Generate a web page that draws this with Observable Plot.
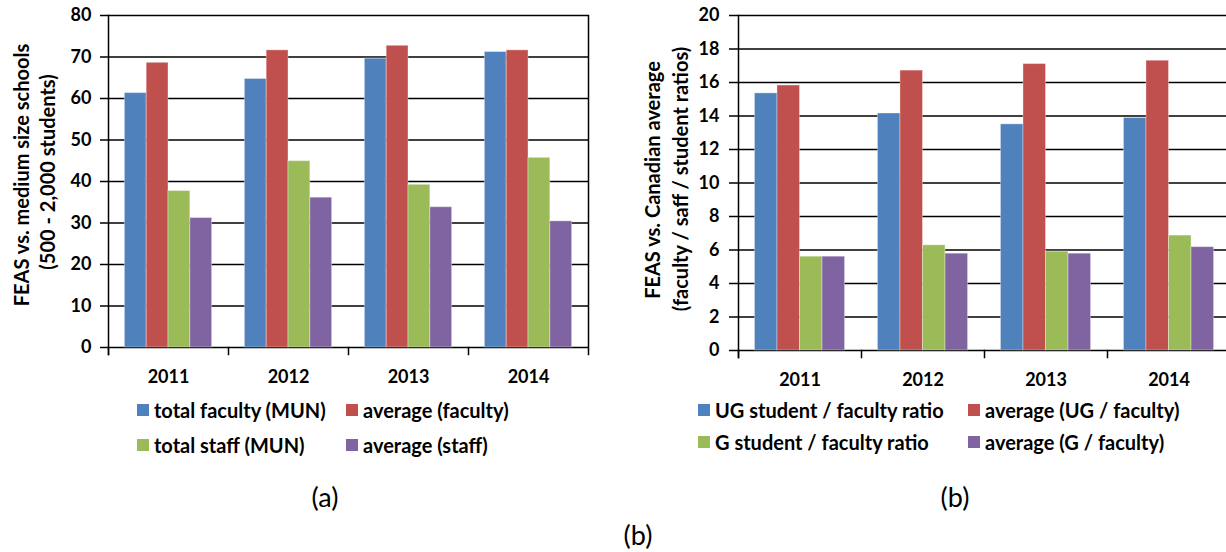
<!DOCTYPE html>
<html>
<head>
<meta charset="utf-8">
<script src="https://cdn.jsdelivr.net/npm/d3@7"></script>
<script src="https://cdn.jsdelivr.net/npm/@observablehq/plot@0.6"></script>
<style>
  html, body { margin: 0; padding: 0; background: #fff; overflow: hidden; }
  #root { position: relative; width: 1226px; height: 552px; overflow: hidden; font-family: Lato, "Open Sans", sans-serif; color: #000; }
  .ytitle { position: absolute; transform: translate(-50%, -50%) rotate(-90deg); white-space: nowrap; font-weight: bold; font-size: 20px; line-height: 1; }
  .legend { position: absolute; display: flex; align-items: center; white-space: nowrap; font-weight: bold; font-size: 20px; line-height: 1; transform: translateY(-50%); }
  .sw { display: inline-block; width: 12px; height: 12px; margin-right: 5px; }
  .cap { position: absolute; transform: translate(-50%, -50%); font-size: 27px; white-space: nowrap; line-height: 1; }
</style>
</head>
<body>
<div id="root"></div>
<script>
// ---------- data ----------
const years = ["2011", "2012", "2013", "2014"];
const colors = ["#4F81BD", "#C0504D", "#9BBB59", "#8064A2"];

// chart (a)
const seriesA = ["total faculty (MUN)", "average (faculty)", "total staff (MUN)", "average (staff)"];
const totalFacultyMUN = [61.3, 64.7, 69.6, 71.2];
const averageFaculty = [68.6, 71.6, 72.7, 71.6];
const totalStaffMUN = [37.7, 44.9, 39.2, 45.7];
const averageStaff = [31.2, 36.1, 33.8, 30.4];
const ticksA = [0, 10, 20, 30, 40, 50, 60, 70, 80];

// chart (b)
const seriesB = ["UG student / faculty ratio", "average (UG / faculty)", "G student / faculty ratio", "average (G / faculty)"];
const ugRatio = [15.35, 14.15, 13.5, 13.88];
const averageUG = [15.82, 16.71, 17.1, 17.3];
const gRatio = [5.6, 6.28, 5.9, 6.86];
const averageG = [5.6, 5.78, 5.78, 6.17];
const ticksB = [0, 2, 4, 6, 8, 10, 12, 14, 16, 18, 20];

// ---------- helpers ----------
function toRows(series, valuesList) {
  const rows = [];
  years.forEach((yr, i) => {
    series.forEach((s, j) => rows.push({year: yr, series: s, value: valuesList[j][i]}));
  });
  return rows;
}

function makeChart({rows, series, ticks, width, height, marginLeft, marginRight, marginTop, marginBottom, tickSize, tickPadding, paddingOuter, rightBorder}) {
  const plotH = height - marginTop - marginBottom;
  const marks = [
    Plot.gridY(ticks, {stroke: "#000", strokeOpacity: 1, strokeWidth: 1.5}),
    Plot.barY(rows, {fx: "year", x: "series", y: "value", fill: "series", stroke: "#fff", strokeOpacity: 0.35, strokeWidth: 1}),
    Plot.axisY(ticks, {tickSize, tickPadding, fontSize: 18, fontWeight: "bold", label: null, stroke: "#000", strokeWidth: 1.5}),
    Plot.axisFx({anchor: "bottom", tickSize: 0, tickPadding: 23, fontSize: 18, fontWeight: "bold", label: null}),
    Plot.frame({anchor: "left", facetAnchor: "left", insetBottom: -7, stroke: "#000", strokeWidth: 1.5}),
    Plot.frame({anchor: "left", insetTop: plotH, insetBottom: -7, stroke: "#000", strokeWidth: 1.5})
  ];
  if (rightBorder) marks.push(Plot.frame({anchor: "right", facetAnchor: "right", insetBottom: -7, stroke: "#000", strokeWidth: 1.5}));
  return Plot.plot({
    width, height, marginLeft, marginRight, marginTop, marginBottom,
    style: {fontFamily: "Lato, 'Open Sans', sans-serif", background: "transparent", overflow: "visible", maxWidth: "none"},
    fx: {domain: years, padding: 0, label: null},
    x: {domain: series, paddingInner: 0, paddingOuter, axis: null, round: false},
    y: {domain: [ticks[0], ticks[ticks.length - 1]], label: null},
    color: {domain: series, range: colors},
    marks
  });
}

const root = document.getElementById("root");

// chart (a)
const chartA = makeChart({
  rows: toRows(seriesA, [totalFacultyMUN, averageFaculty, totalStaffMUN, averageStaff]),
  series: seriesA, ticks: ticksA,
  width: 600, height: 400, marginLeft: 107, marginRight: 11, marginTop: 15, marginBottom: 53,
  tickSize: 8, tickPadding: 9, paddingOuter: 0.75, rightBorder: true
});
chartA.style.position = "absolute"; chartA.style.left = "0px"; chartA.style.top = "0px";
root.appendChild(chartA);

// chart (b)
const chartB = makeChart({
  rows: toRows(seriesB, [ugRatio, averageUG, gRatio, averageG]),
  series: seriesB, ticks: ticksB,
  width: 620, height: 400, marginLeft: 117, marginRight: 9, marginTop: 15, marginBottom: 50,
  tickSize: 9, tickPadding: 10, paddingOuter: 0.73, rightBorder: false
});
chartB.style.position = "absolute"; chartB.style.left = "620px"; chartB.style.top = "0px";
root.appendChild(chartB);

// ---------- text (titles, legends, captions) ----------
function addDiv(cls, text, x, y) {
  const d = document.createElement("div");
  d.className = cls;
  d.textContent = text;
  d.style.left = x + "px";
  d.style.top = y + "px";
  root.appendChild(d);
  return d;
}
addDiv("ytitle", "FEAS vs. medium size schools", 21, 175);
addDiv("ytitle", "(500 - 2,000 students)", 47, 172);
addDiv("ytitle", "FEAS vs. Canadian average", 652, 180);
addDiv("ytitle", "(faculty / saff / student ratios)", 680, 179);

function addLegend(label, color, x, y) {
  const d = document.createElement("div");
  d.className = "legend";
  d.style.left = x + "px";
  d.style.top = y + "px";
  const sw = document.createElement("span");
  sw.className = "sw";
  sw.style.background = color;
  const t = document.createElement("span");
  t.textContent = label;
  d.appendChild(sw); d.appendChild(t);
  root.appendChild(d);
}
addLegend(seriesA[0], colors[0], 137, 410);
addLegend(seriesA[1], colors[1], 346, 410);
addLegend(seriesA[2], colors[2], 137, 445);
addLegend(seriesA[3], colors[3], 346, 445);
addLegend(seriesB[0], colors[0], 698, 410);
addLegend(seriesB[1], colors[1], 968, 410);
addLegend(seriesB[2], colors[2], 698, 442);
addLegend(seriesB[3], colors[3], 968, 442);

addDiv("cap", "(a)", 325, 496);
addDiv("cap", "(b)", 955, 496);
addDiv("cap", "(b)", 638, 534);
</script>
</body>
</html>
